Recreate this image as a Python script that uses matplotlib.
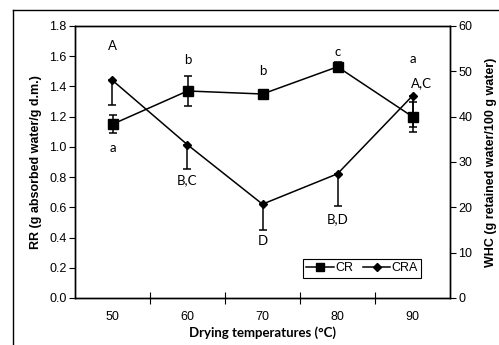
import matplotlib
matplotlib.use('Agg')
import matplotlib.pyplot as plt
from matplotlib.lines import Line2D

temps = ['50', '60', '70', '80', '90']
cr = [1.15, 1.37, 1.35, 1.53, 1.20]
cr_err = [0.06, 0.10, 0.02, 0.035, 0.10]
cra = [48.0, 33.8, 20.7, 27.4, 44.6]
cra_err = [5.5, 5.4, 5.7, 7.1, 6.9]

letters = ['A', 'a', 'b', 'B,C', 'b', 'D', 'c', 'B,D', 'a', 'A,C']
letter_x = [0, 0, 1, 1, 2, 2, 3, 3, 4, 4.12]
letter_y = [1.67, 0.99, 1.575, 0.78, 1.50, 0.38, 1.63, 0.52, 1.58, 1.42]

plt.rcParams['font.family'] = ['Liberation Sans', 'DejaVu Sans']
fig = plt.figure(figsize=(4.99, 3.45), dpi=100)
ax = fig.add_axes([75/499, 47/345, 375/499, 272/345])
ax2 = ax.twinx()

x = list(range(len(temps)))
l1 = ax.errorbar(x, cr, yerr=cr_err, color='black', marker='s', ms=6.5,
                 lw=1.1, capsize=3, elinewidth=1.1, capthick=1.1, label='CR')
l2 = ax2.errorbar(x, cra, yerr=[cra_err, [0]*len(cra)], color='black', marker='D',
                  ms=4, lw=1.1, capsize=3, elinewidth=1.1, capthick=1.1, label='CRA')

ax.set_xlim(-0.5, 4.5)
ax.set_ylim(0, 1.8)
ax2.set_ylim(0, 60)
ax.set_yticks([i*0.2 for i in range(10)])
ax.set_yticklabels(['%.1f' % (i*0.2) for i in range(10)])
ax2.set_yticks(range(0, 61, 10))
ax.set_xticks(x)
ax.set_xticklabels(temps)
ax.set_xticks([0.5, 1.5, 2.5, 3.5], minor=True)
ax.tick_params(axis='x', which='major', length=0, labelsize=9, pad=9)
ax.tick_params(axis='x', which='minor', direction='inout', length=8, width=0.8)
ax.tick_params(axis='y', length=4, width=0.8, labelsize=9, pad=2)
ax2.tick_params(axis='y', length=4, width=0.8, labelsize=9, pad=2)
for a in (ax, ax2):
    for s in a.spines.values():
        s.set_linewidth(1.0)

for t, xx, yy in zip(letters, letter_x, letter_y):
    ax.text(xx, yy, t, ha='center', va='center', fontsize=9.5, family=['Lato', 'DejaVu Sans'])

ax.set_ylabel('RR (g absorbed water/g d.m.)', fontsize=9, fontweight='bold', labelpad=5)
ax2.set_ylabel('WHC (g retained water/100 g water)', fontsize=9, fontweight='bold', labelpad=9)
ax.set_xlabel('Drying temperatures (°C)', fontsize=9.5, fontweight='bold',
              family=['Lato', 'DejaVu Sans'], labelpad=3)

handles = [Line2D([], [], color='black', marker='s', ms=6, lw=1.1),
           Line2D([], [], color='black', marker='D', ms=4, lw=1.1)]
leg = ax2.legend(handles, ['CR', 'CRA'], loc='lower left', bbox_to_anchor=(0.608, 0.075),
                 ncol=2, fancybox=False, edgecolor='black', framealpha=1, fontsize=9,
                 handlelength=2.2, handletextpad=0.1, columnspacing=0.8,
                 borderpad=0.25, borderaxespad=0)
leg.get_frame().set_linewidth(0.8)

fig.add_artist(Line2D([13/499, 1], [335/345, 335/345], color='black', lw=1.0))
fig.add_artist(Line2D([13/499, 13/499], [0, 335/345], color='black', lw=1.0))

fig.savefig('out.png', dpi=100)
